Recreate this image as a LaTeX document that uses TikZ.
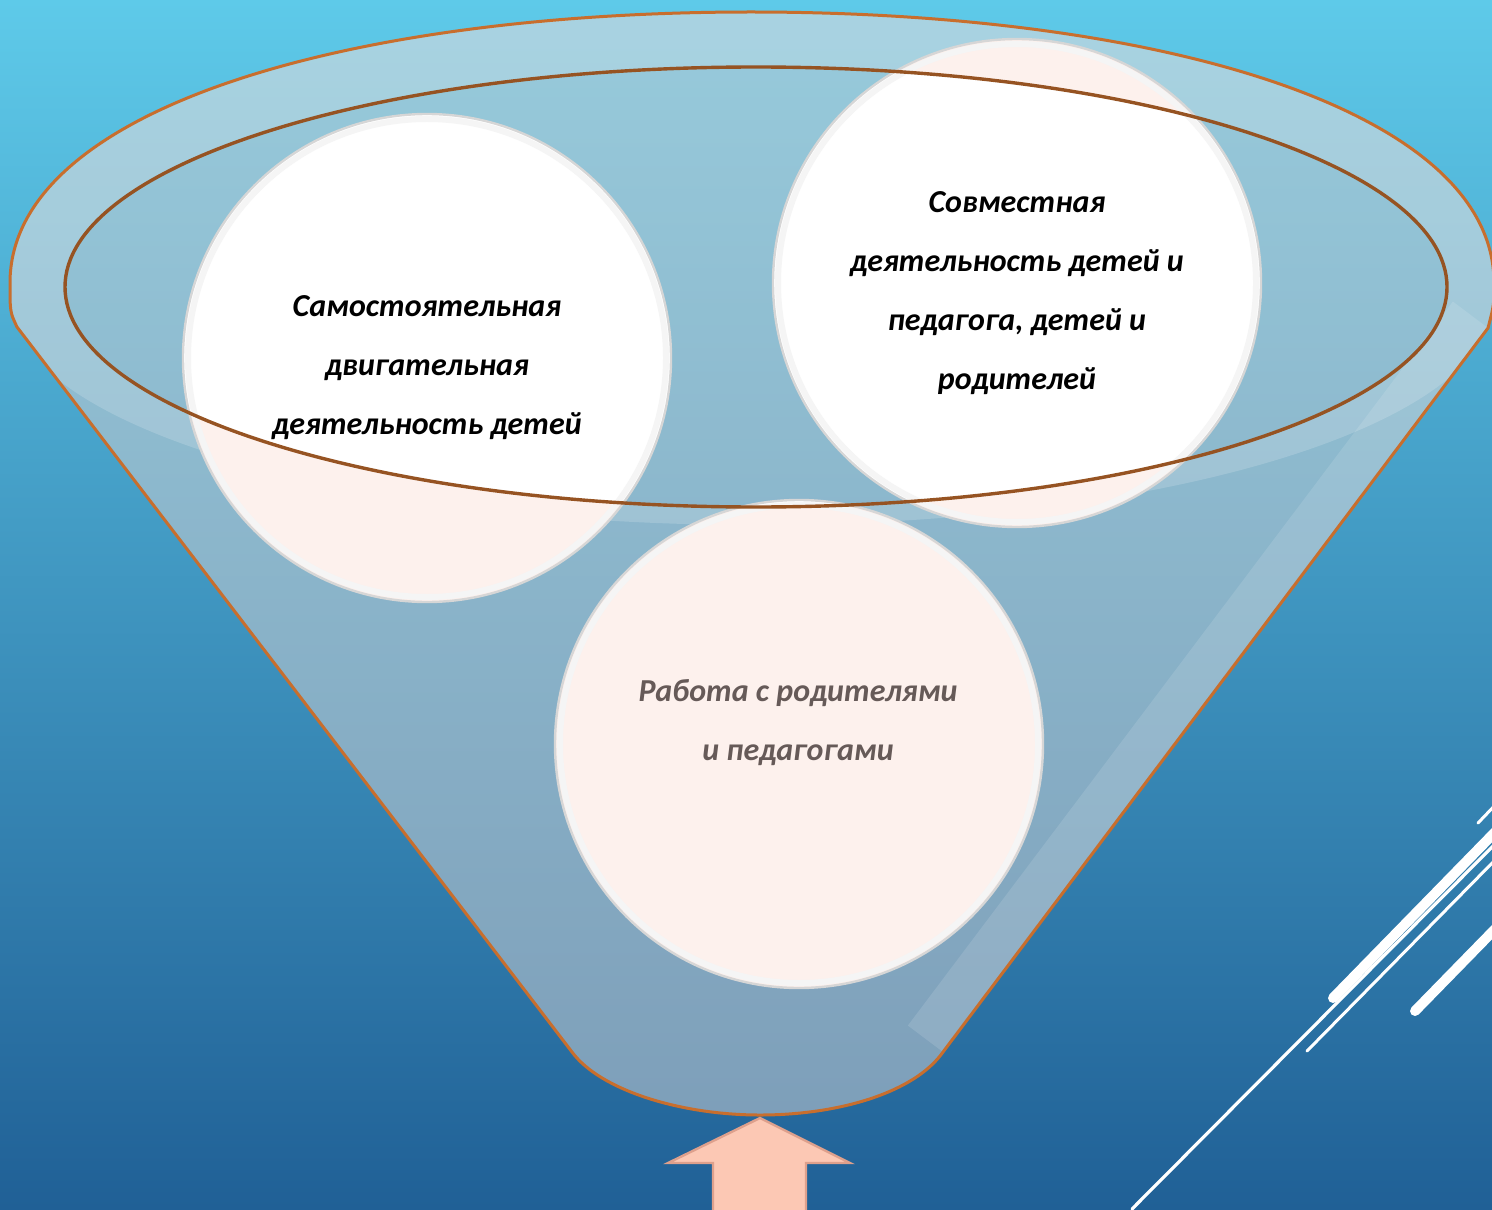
\documentclass[tikz,border=0pt]{standalone}
\usepackage{fontspec}
\setmainfont{Carlito}
\usetikzlibrary{positioning}
\definecolor{sky1}{RGB}{94,202,233}
\definecolor{sea1}{RGB}{32,96,150}
\definecolor{glass1}{RGB}{200,205,210}
\definecolor{rim1}{RGB}{200,110,45}
\definecolor{pink1}{RGB}{253,241,237}
\definecolor{arrow1}{RGB}{252,200,180}
\definecolor{arrowedge}{RGB}{222,160,140}
\definecolor{gray1}{RGB}{102,90,88}
\newcommand\funnelshape{(17,327) .. controls (10,312) .. (10,283)
  .. controls (10,110) and (345,12) .. (751,12)
  .. controls (1160,12) and (1494,110) .. (1494,283)
  .. controls (1494,305) .. (1488,328) -- (943,1052)
  .. controls (915,1092) and (840,1115) .. (760,1115)
  .. controls (680,1115) and (600,1090) .. (572,1052) -- cycle}
\newcommand\rimshape{(10,283) .. controls (10,110) and (345,12) .. (751,12)
  .. controls (1160,12) and (1494,110) .. (1494,283)
  -- (1494,300) .. controls (1494,424) and (1168,525) .. (756,525)
  .. controls (344,525) and (10,424) .. (10,300) -- cycle}
\newcommand\innerrim{(756,287) ellipse [x radius=691, y radius=220]}
\tikzset{
  bubbletext/.style={align=center, font=\fontsize{16}{29.5}\selectfont\bfseries\itshape},
  whiteline/.style={white, line cap=round},
}

\begin{document}
\begin{tikzpicture}[x=0.5pt, y=-0.5pt]
  \useasboundingbox (0,0) rectangle (1492,1209);
  \shade[top color=sky1, bottom color=sea1] (0,0) rectangle (1492,1209);

  % funnel glass
  \fill[glass1, opacity=0.55] \funnelshape;
  \begin{scope}
    \clip \funnelshape;
    \fill[white, opacity=0.17, even odd rule] \rimshape \innerrim;
    \draw[white, opacity=0.12, line width=44] (1488,328) -- (943,1052);
  \end{scope}

  % circles
  \coordinate (solo) at (427,358);
  \coordinate (joint) at (1017,283);
  \coordinate (work) at (799,744);
  \foreach \c in {solo, joint, work}
    \fill[pink1] (\c) circle[radius=244];
  \begin{scope}
    \clip \innerrim;
    \foreach \c in {solo, joint, work}
      \fill[white] (\c) circle[radius=244];
  \end{scope}
  \foreach \c in {solo, joint, work} {
    \draw[black!4, line width=3] (\c) circle[radius=239];
    \draw[black!16, line width=1.2] (\c) circle[radius=244];
  }

  % outlines
  \draw[rim1!75!black, line width=1.7] \innerrim;
  \draw[rim1, line width=1.5] \funnelshape;

  % texts
  \node[bubbletext] (solotext) at (427,368) {Самостоятельная\\двигательная\\деятельность детей};
  \node[bubbletext] (jointtext) at (1017,293) {Совместная\\деятельность детей и\\педагога, детей и\\родителей};
  \node[bubbletext, text=gray1] (worktext) at (798,723) {Работа с родителями\\и педагогами};

  % arrow
  \fill[arrow1, draw=arrowedge, line width=1.2] (760,1118) -- (850,1163) -- (806,1163)
    -- (806,1215) -- (713,1215) -- (713,1163) -- (668,1163) -- cycle;

  % corner lines
  \begin{scope}
    \clip (0,0) rectangle (1492,1209);
    \draw[whiteline, line width=1.5] (1500,800) -- (1478,823);
    \draw[whiteline, line width=5] (1500,827) -- (1333,998);
    \draw[whiteline, line width=1.6] (1500,839) -- (1132,1209);
    \draw[whiteline, line width=1.5] (1500,855) -- (1307,1051);
    \draw[whiteline, line width=5] (1500,924) -- (1415,1011);
  \end{scope}
\end{tikzpicture}
\end{document}
